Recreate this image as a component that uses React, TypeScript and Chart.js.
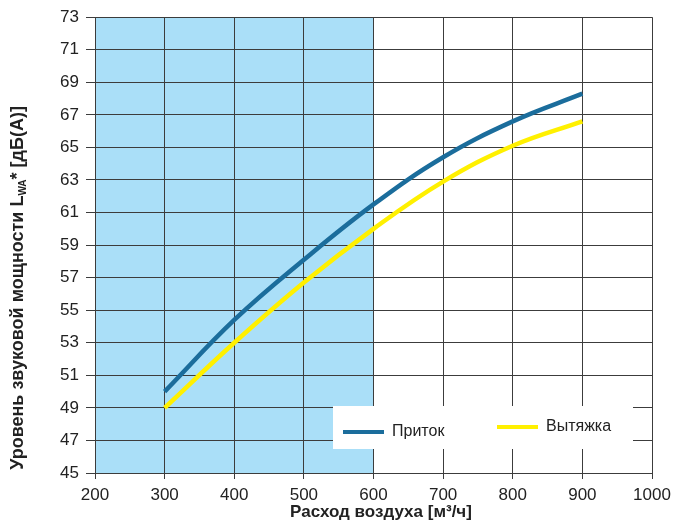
import React, { useEffect, useRef } from "react";
import { Chart, registerables } from "chart.js";

Chart.register(...registerables);

const flow = [300, 400, 500, 600, 700, 800, 900];
const supply = [50.0, 54.4, 58.1, 61.5, 64.4, 66.6, 68.3];
const extract = [49.0, 53.0, 56.7, 60.0, 62.9, 65.1, 66.6];
const seriesLabels = ["Приток", "Вытяжка"];
const xTitle = "Расход воздуха [м³/ч]";
const yTitleMain = "Уровень звуковой мощности L";
const yTitleSub = "WA";
const yTitleTail = "* [дБ(A)]";
const shadeFrom = 200;
const shadeTo = 600;

const FONT = "'Liberation Sans', Arial, sans-serif";
const BLUE = "#1b6d9c";
const YELLOW = "#fff000";
const GRID = "#3c3c3c";

const shadePlugin = {
  id: "shade",
  beforeDraw(chart: any) {
    const { ctx, chartArea, scales } = chart;
    const x1 = scales.x.getPixelForValue(shadeFrom);
    const x2 = scales.x.getPixelForValue(shadeTo);
    ctx.save();
    ctx.fillStyle = "#aadff8";
    ctx.fillRect(x1, chartArea.top, x2 - x1, chartArea.bottom - chartArea.top);
    ctx.restore();
  },
};

const decorPlugin = {
  id: "decor",
  afterDatasetsDraw(chart: any) {
    const { ctx } = chart;
    const ds = chart.data.datasets;
    ctx.save();
    ctx.fillStyle = "#ffffff";
    ctx.fillRect(333, 406, 300, 43);
    ctx.lineCap = "butt";
    ctx.lineWidth = 4;
    ctx.strokeStyle = ds[0].borderColor;
    ctx.beginPath();
    ctx.moveTo(343, 432);
    ctx.lineTo(384, 432);
    ctx.stroke();
    ctx.strokeStyle = ds[1].borderColor;
    ctx.beginPath();
    ctx.moveTo(497, 427);
    ctx.lineTo(538, 427);
    ctx.stroke();
    ctx.fillStyle = "#222";
    ctx.font = `16px ${FONT}`;
    ctx.textBaseline = "middle";
    ctx.textAlign = "left";
    ctx.fillText(ds[0].label, 392, 432);
    ctx.fillText(ds[1].label, 546, 427);
    ctx.restore();
  },
  afterDraw(chart: any) {
    const { ctx } = chart;
    ctx.save();
    ctx.fillStyle = "#222";
    ctx.font = `bold 17px ${FONT}`;
    ctx.textAlign = "center";
    ctx.textBaseline = "middle";
    ctx.fillText(xTitle, 381, 512);
    const bigFont = `bold 18px ${FONT}`;
    const smallFont = `bold 10px ${FONT}`;
    ctx.font = bigFont;
    const w1 = ctx.measureText(yTitleMain).width;
    const w3 = ctx.measureText(yTitleTail).width;
    ctx.font = smallFont;
    const w2 = ctx.measureText(yTitleSub).width;
    const total = w1 + w2 + w3;
    ctx.translate(18, 288);
    ctx.rotate(-Math.PI / 2);
    ctx.textAlign = "left";
    ctx.textBaseline = "middle";
    let x = -total / 2;
    ctx.font = bigFont;
    ctx.fillText(yTitleMain, x, 0);
    x += w1;
    ctx.font = smallFont;
    ctx.fillText(yTitleSub, x, 5);
    x += w2;
    ctx.font = bigFont;
    ctx.fillText(yTitleTail, x, 0);
    ctx.restore();
  },
};

export default function App() {
  const ref = useRef<HTMLCanvasElement | null>(null);
  useEffect(() => {
    if (!ref.current) return;
    const chart = new Chart(ref.current, {
      type: "line",
      data: {
        datasets: [
          {
            label: seriesLabels[0],
            data: flow.map((x, i) => ({ x, y: supply[i] })),
            borderColor: BLUE,
            borderWidth: 4.5,
            pointRadius: 0,
            tension: 0.4,
            fill: false,
          },
          {
            label: seriesLabels[1],
            data: flow.map((x, i) => ({ x, y: extract[i] })),
            borderColor: YELLOW,
            borderWidth: 4.5,
            pointRadius: 0,
            tension: 0.4,
            fill: false,
          },
        ],
      },
      options: {
        animation: false,
        responsive: false,
        maintainAspectRatio: false,
        layout: { padding: { top: 15, right: 28, left: 0, bottom: 0 } },
        plugins: {
          legend: { display: false },
          tooltip: { enabled: false },
          title: { display: false },
        },
        scales: {
          x: {
            type: "linear",
            min: 200,
            max: 1000,
            ticks: {
              stepSize: 100,
              color: "#222",
              font: { family: FONT, size: 17 },
              padding: 6,
              maxRotation: 0,
              callback: (v: any) => String(v),
            },
            grid: { color: GRID, lineWidth: 1, tickLength: 6 },
            border: { color: GRID, width: 1 },
            afterFit: (s: any) => {
              s.height = 51;
            },
          },
          y: {
            min: 45,
            max: 73,
            ticks: {
              stepSize: 2,
              color: "#222",
              font: { family: FONT, size: 17 },
              padding: 7,
            },
            grid: { color: GRID, lineWidth: 1, tickLength: 9 },
            border: { color: GRID, width: 1 },
            afterFit: (s: any) => {
              s.width = 95;
            },
          },
        },
      },
      plugins: [shadePlugin, decorPlugin],
    });
    return () => chart.destroy();
  }, []);
  return (
    <div style={{ position: "fixed", left: 0, top: 0, width: 680, height: 524, background: "#fff" }}>
      <canvas ref={ref} width={680} height={524} style={{ width: 680, height: 524 }} />
    </div>
  );
}
